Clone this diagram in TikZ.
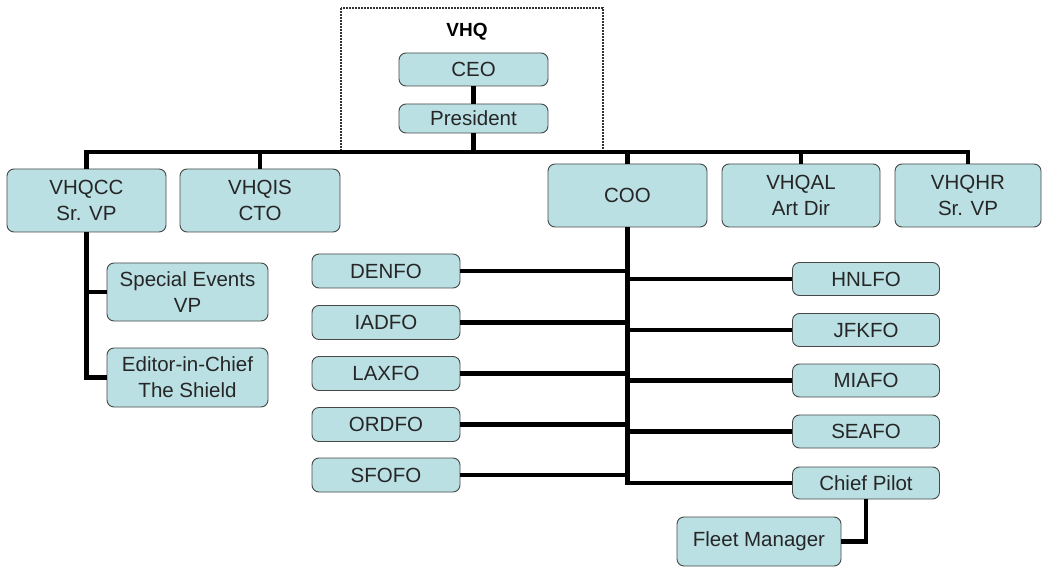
\documentclass[tikz,border=0pt]{standalone}
\usepackage{fontspec}
\setmainfont{Liberation Sans}
\usepackage{tikz}
\definecolor{boxblue}{RGB}{186,224,228}
\tikzset{
	box/.style={draw=black!72,line width=0.9pt,fill=boxblue,rounded corners=7pt,align=center,inner sep=0pt,text=black!85,font=\fontsize{20.5}{26}\selectfont},
	link/.style={line width=4.5pt},
}

\begin{document}
\begin{tikzpicture}[x=1pt,y=-1pt]
	\useasboundingbox (0,0) rectangle (1044,569);
	\draw[line width=1.6pt,dash pattern=on 1.6pt off 1.4pt,black!80] (341,8) rectangle (603,153);
	\node[font=\bfseries\fontsize{19}{22}\selectfont] (vhq) at (467,32) {VHQ};
	\node[box,minimum width=149pt,minimum height=33pt] (ceo) at (473.5,69.5) {CEO};
	\node[box,minimum width=149pt,minimum height=29pt] (pres) at (473.5,118.5) {President};
	\node[box,minimum width=159pt,minimum height=63pt] (vhqcc) at (86.5,200.5) {VHQCC\\Sr. VP};
	\node[box,minimum width=160pt,minimum height=63pt] (vhqis) at (260,200.5) {VHQIS\\CTO};
	\node[box,minimum width=159pt,minimum height=63pt] (coo) at (627.5,195.5) {COO};
	\node[box,minimum width=158pt,minimum height=63pt] (vhqal) at (801,195.5) {VHQAL\\Art Dir};
	\node[box,minimum width=146pt,minimum height=63pt] (vhqhr) at (968,195.5) {VHQHR\\Sr. VP};
	\node[box,minimum width=161pt,minimum height=58pt] (spev) at (187.5,292) {Special Events\\VP};
	\node[box,minimum width=161pt,minimum height=59pt] (editor) at (187.5,377.5) {Editor-in-Chief\\The Shield};
	\node[box,minimum width=148pt,minimum height=34pt] (denfo) at (386,271) {DENFO};
	\node[box,minimum width=148pt,minimum height=34pt] (iadfo) at (386,322.5) {IADFO};
	\node[box,minimum width=148pt,minimum height=34pt] (laxfo) at (386,373.5) {LAXFO};
	\node[box,minimum width=148pt,minimum height=34pt] (ordfo) at (386,424.5) {ORDFO};
	\node[box,minimum width=148pt,minimum height=34pt] (sfofo) at (386,475) {SFOFO};
	\node[box,minimum width=147pt,minimum height=33pt] (hnlfo) at (866,279) {HNLFO};
	\node[box,minimum width=147pt,minimum height=33pt] (jfkfo) at (866,330) {JFKFO};
	\node[box,minimum width=147pt,minimum height=33pt] (miafo) at (866,380.5) {MIAFO};
	\node[box,minimum width=147pt,minimum height=33pt] (seafo) at (866,431.5) {SEAFO};
	\node[box,minimum width=147pt,minimum height=32pt] (chief) at (866,483) {Chief Pilot};
	\node[box,minimum width=164pt,minimum height=49pt] (fleet) at (759,541.5) {Fleet Manager};
	% top of the tree
	\coordinate (bus) at (0,152);
	\draw[link] (ceo) -- (pres);
	\draw[link] (pres.south) -- (pres.south |- bus);
	\draw[link] (vhqcc.north) -- (vhqcc.north |- bus) -- (vhqhr.north |- bus) -- (vhqhr.north);
	\foreach \n in {vhqis,coo,vhqal}
		\draw[link] (\n.north) -- (\n.north |- bus);
	% VHQCC branch
	\draw[link] (vhqcc.south) -- (vhqcc.south |- editor.west) -- (editor.west);
	\draw[link] (vhqcc.south |- spev.west) -- (spev.west);
	% COO branch
	\draw[link] (coo.south) -- (coo.south |- chief.west) -- (chief.west);
	\foreach \n in {denfo,iadfo,laxfo,ordfo,sfofo}
		\draw[link] (\n.east) -- (\n.east -| coo.south);
	\foreach \n in {hnlfo,jfkfo,miafo,seafo}
		\draw[link] (coo.south |- \n.west) -- (\n.west);
	\draw[link] (chief.south) |- (fleet.east);
\end{tikzpicture}
\end{document}
